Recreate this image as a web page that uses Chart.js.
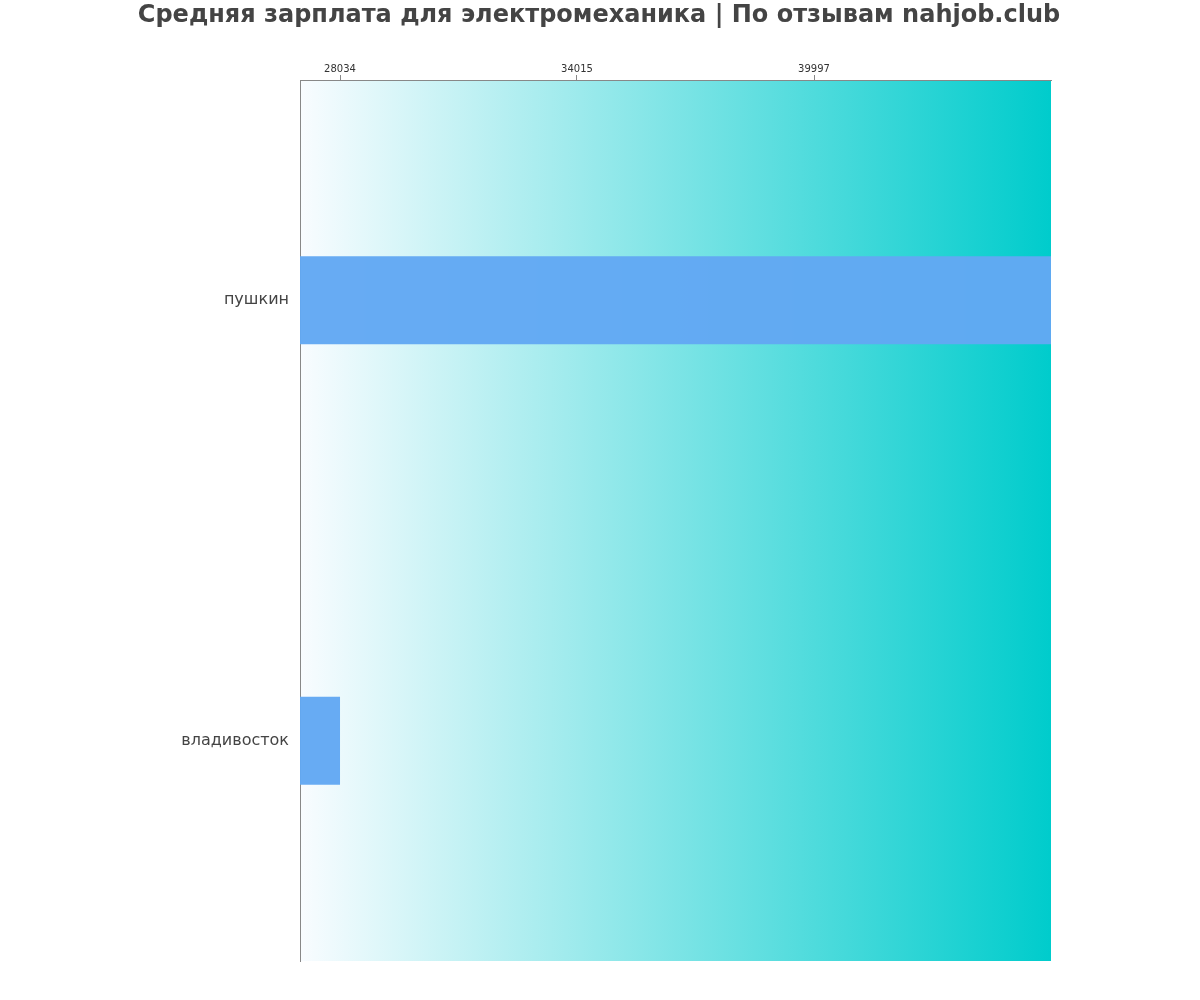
<!DOCTYPE html>
<html>
<head>
<meta charset="utf-8">
<script src="https://cdn.jsdelivr.net/npm/chart.js@4"></script>
<style>
    html, body { margin: 0; padding: 0; background: #fff; }
    #wrap { width: 1200px; height: 1000px; }
</style>
</head>
<body>
<div id="wrap"><canvas id="salaryChart" width="1200" height="1000"></canvas></div>
<script>
const cities = ['пушкин', 'владивосток'];
const salaries = [45978, 28034];
const tickValues = [28034, 34015, 39997];
const axisMin = 27024;
const axisMax = 45978;

const titleText = 'Средняя зарплата для электромеханика | По отзывам nahjob.club';
const barColor = 'rgba(98, 168, 243, 0.97)';
const textColor = '#444444';
const lineColor = '#888888';

// gradient background, painted before the axes so the borders stay on top
const backgroundPlugin = {
    id: 'gradientBack',
    beforeDraw(chart) {
        const {ctx, chartArea} = chart;
        const grad = ctx.createLinearGradient(chartArea.left, 0, chartArea.right, 0);
        grad.addColorStop(0, '#f9fcff');
        grad.addColorStop(1, '#00cccc');
        ctx.save();
        ctx.fillStyle = grad;
        ctx.fillRect(chartArea.left, chartArea.top, chartArea.right - chartArea.left, chartArea.bottom - chartArea.top);
        ctx.restore();
    }
};

const titlePlugin = {
    id: 'bigTitle',
    afterDraw(chart) {
        const ctx = chart.ctx;
        ctx.save();
        ctx.font = 'bold 24px "DejaVu Sans"';
        ctx.fillStyle = textColor;
        ctx.textAlign = 'center';
        ctx.textBaseline = 'middle';
        ctx.fillText(titleText, 599, 16);
        ctx.restore();
    }
};

const ctx = document.getElementById('salaryChart').getContext('2d');
new Chart(ctx, {
    type: 'bar',
    data: {
        labels: cities,
        datasets: [{
            data: salaries,
            backgroundColor: barColor,
            borderWidth: 0,
            barPercentage: 0.2,
            categoryPercentage: 1
        }]
    },
    plugins: [backgroundPlugin, titlePlugin],
    options: {
        indexAxis: 'y',
        responsive: false,
        animation: false,
        layout: {padding: {left: 0, right: 149, top: 0, bottom: 39}},
        plugins: {
            legend: {display: false},
            tooltip: {enabled: false}
        },
        scales: {
            x: {
                position: 'top',
                min: axisMin,
                max: axisMax,
                afterBuildTicks: (scale) => {
                    scale.ticks = tickValues.map(v => ({value: v}));
                },
                afterFit: (scale) => { scale.height = 80; },
                grid: {drawOnChartArea: false, tickLength: 5, color: lineColor},
                border: {display: true, color: lineColor, width: 1},
                ticks: {
                    autoSkip: false,
                    maxRotation: 0,
                    padding: 0,
                    color: '#333333',
                    font: {family: 'DejaVu Sans', size: 10},
                    callback: (v) => String(v)
                }
            },
            y: {
                afterFit: (scale) => { scale.width = 300; },
                grid: {display: false},
                border: {display: true, color: lineColor, width: 1},
                ticks: {
                    padding: 3,
                    color: textColor,
                    font: {family: 'DejaVu Sans', size: 16}
                }
            }
        }
    }
});
</script>
</body>
</html>
